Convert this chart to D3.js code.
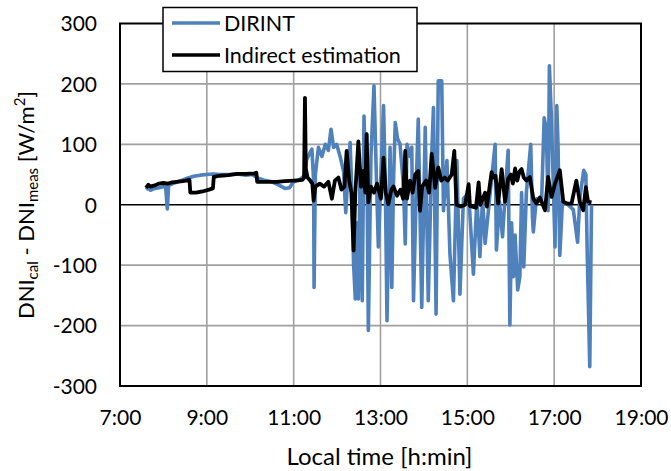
<!DOCTYPE html>
<html>
<head>
<meta charset="utf-8">
<script src="https://cdn.jsdelivr.net/npm/d3@7/dist/d3.min.js"></script>
<style>
  html, body { margin: 0; padding: 0; background: #fff; }
  svg text { font-family: Lato, "Open Sans", sans-serif; fill: #000; }
</style>
</head>
<body>
<svg id="chart" width="671" height="471"></svg>
<script>
// Time of day in decimal hours, difference DNI_cal - DNI_meas in W/m2
const dirintTime = [7.60,7.65,7.70,7.80,7.90,8.00,8.05,8.09,8.12,8.25,8.40,8.55,8.70,8.85,9.00,9.15,9.30,9.50,9.70,9.90,10.05,10.15,10.30,10.50,10.65,10.80,10.90,11.00,11.10,
  11.15,11.24,11.30,11.42,11.46,11.47,11.50,11.57,11.65,11.73,11.80,11.86,11.92,11.99,12.07,12.15,12.20,12.25,12.30,12.34,12.38,12.42,12.45,12.49,12.53,12.58,12.62,12.66,12.68,12.72,12.78,12.85,12.90,12.95,13.01,13.07,13.11,13.15,13.22,13.26,13.30,13.34,13.39,13.45,13.53,13.57,13.61,13.68,13.72,13.76,
  13.84,13.87,13.95,14.03,14.10,14.18,14.22,14.28,14.33,14.41,14.45,14.53,14.60,14.68,14.76,14.83,14.91,15.03,15.14,15.22,
  15.29,15.35,15.41,15.52,15.64,15.67,15.74,15.81,15.87,15.94,15.98,16.02,16.06,16.10,16.13,16.16,16.21,16.25,16.30,16.36,16.46,16.50,16.52,16.59,16.71,16.77,16.82,16.86,16.89,16.93,16.98,17.02,17.06,17.09,17.13,17.19,17.32,17.44,17.54,17.59,17.68,17.73,17.76,17.82,17.86];
const dirintDiff = [25,28,24,27,28,30,30,-7,32,36,40,44,47,49,50,51,50,50,51,49,50,45,41,38,33,27,28,38,40,
  42,48,75,92,40,-137,50,95,80,100,90,125,95,100,80,55,-13,50,103,20,-98,-156,-30,-156,60,-159,147,40,117,-208,80,197,60,-70,50,164,40,-192,95,-137,40,136,110,100,30,-65,100,80,95,-159,
  73,142,-170,128,-159,84,161,-181,205,205,-10,73,-82,-159,73,-148,10,20,-115,10,
  -86,10,-64,15,100,-75,5,-53,15,90,-199,-30,-119,-50,-97,-141,-119,20,-103,20,100,-20,-45,10,5,144,125,-10,230,155,35,-70,164,95,-84,5,0,-8,-62,10,57,50,-75,-268,0];

const indirectTime = [7.60,7.65,7.70,7.80,7.90,8.00,8.10,8.20,8.30,8.45,8.60,8.62,8.75,8.90,9.05,9.14,9.16,9.30,9.50,9.70,9.90,10.10,10.14,10.16,10.40,10.60,10.80,11.00,11.20,11.24,11.26,11.28,
  11.32,11.38,11.43,11.46,11.50,11.60,11.70,11.80,11.88,11.95,12.03,12.10,12.17,12.22,12.28,12.33,12.38,12.42,12.49,12.55,12.60,12.65,12.68,12.72,12.78,12.85,12.92,13.01,13.07,13.12,13.18,13.25,13.30,13.38,13.46,13.52,13.57,13.61,13.68,13.74,13.80,13.87,13.91,13.96,
  14.05,14.12,14.18,14.26,14.33,14.40,14.48,14.55,14.64,14.70,14.75,14.85,14.95,15.03,15.06,15.20,15.26,15.30,15.41,15.45,15.56,15.60,15.65,15.71,15.79,15.87,15.94,16.00,16.05,16.10,16.15,16.20,16.25,16.30,16.36,16.44,16.52,16.59,16.67,16.79,16.86,16.94,17.02,17.13,17.21,17.30,17.40,17.51,17.59,17.67,17.73,17.78,17.86];
const indirectDiff = [28,33,30,32,35,36,35,37,38,39,41,20,20,22,25,27,46,48,49,51,51,52,53,38,38,38,39,40,41,45,177,60,
  45,40,35,7,30,35,30,38,10,40,45,25,30,89,40,20,-76,20,105,30,56,20,117,4,30,20,35,10,78,20,1,25,30,15,25,10,89,10,40,20,50,56,-10,30,
  40,20,84,28,62,40,45,40,50,89,0,-3,0,34,-2,-5,37,0,20,-3,54,45,48,2,59,5,43,50,35,60,40,55,59,45,40,46,10,2,12,-9,46,13,35,57,5,2,2,40,5,-9,29,5,4];

const seriesNames = ["DIRINT", "Indirect estimation"];
const seriesColors = ["#4f81bd", "#000000"];
const xTicks = [7, 9, 11, 13, 15, 17, 19];
const yTicks = [-300, -200, -100, 0, 100, 200, 300];

const svg = d3.select("#chart");
const L = 120, R = 641, T = 23.5, B = 386;

const x = d3.scaleLinear().domain([7, 19]).range([L, R]);
const y = d3.scaleLinear().domain([-300, 300]).range([B, T]);

// grid
const grid = svg.append("g");
grid.selectAll("line.v").data(xTicks.slice(1, -1)).join("line")
  .attr("x1", d => x(d)).attr("x2", d => x(d)).attr("y1", T).attr("y2", B)
  .attr("stroke", "#a0a0a0").attr("stroke-width", 1.6);
grid.selectAll("line.h").data(yTicks.filter(d => d !== 0 && Math.abs(d) !== 300)).join("line")
  .attr("x1", L).attr("x2", R).attr("y1", d => y(d)).attr("y2", d => y(d))
  .attr("stroke", "#a0a0a0").attr("stroke-width", 1.6);
// zero line
svg.append("line").attr("x1", L).attr("x2", R).attr("y1", y(0)).attr("y2", y(0))
  .attr("stroke", "#000").attr("stroke-width", 1.5);

// axes labels
const xAxis = d3.axisBottom(x).tickValues(xTicks).tickSize(0).tickPadding(0)
  .tickFormat(d => d + ":00");
const gx = svg.append("g").attr("transform", `translate(0,${B})`).call(xAxis);
gx.select(".domain").remove();
gx.selectAll("text").attr("dy", null).attr("y", 39).style("font-size", "21px")
  .attr("font-family", null);

const yAxis = d3.axisLeft(y).tickValues(yTicks).tickSize(0).tickPadding(0)
  .tickFormat(d => String(d));
const gy = svg.append("g").attr("transform", `translate(${L},0)`).call(yAxis);
gy.select(".domain").remove();
gy.selectAll("text").attr("x", -23).attr("dy", "0.35em").style("font-size", "21px")
  .attr("font-family", null);

// data lines
const line = d3.line().x(d => x(d[0])).y(d => y(d[1]));
const dirint = dirintTime.map((t, i) => [t, dirintDiff[i]]);
const indirect = indirectTime.map((t, i) => [t, indirectDiff[i]]);
svg.append("path").datum(dirint).attr("d", line).attr("fill", "none")
  .attr("stroke", seriesColors[0]).attr("stroke-width", 3.6).attr("stroke-linejoin", "round");
svg.append("path").datum(indirect).attr("d", line).attr("fill", "none")
  .attr("stroke", seriesColors[1]).attr("stroke-width", 3.8).attr("stroke-linejoin", "round");

// frame
svg.append("rect").attr("x", L).attr("y", T).attr("width", R - L).attr("height", B - T)
  .attr("fill", "none").attr("stroke", "#000").attr("stroke-width", 2);

// legend
const lg = svg.append("g");
lg.append("rect").attr("x", 163).attr("y", 7.5).attr("width", 254).attr("height", 64)
  .attr("fill", "#fff").attr("stroke", "#000").attr("stroke-width", 1.5);
seriesNames.forEach((name, i) => {
  const yy = 23 + i * 32;
  lg.append("line").attr("x1", 172).attr("x2", 220).attr("y1", yy).attr("y2", yy)
    .attr("stroke", seriesColors[i]).attr("stroke-width", 3.5);
  lg.append("text").attr("x", 224).attr("y", yy).attr("dy", "0.35em")
    .style("font-size", "21.5px").text(name);
});

// axis titles
svg.append("text").attr("x", (L + R) / 2 - 1).attr("y", 465).attr("text-anchor", "middle")
  .style("font-size", "24px").text("Local time [h:min]");

const yt = svg.append("text").attr("transform", `translate(34,205) rotate(-90)`)
  .attr("text-anchor", "middle").style("font-size", "22px");
yt.append("tspan").text("DNI");
yt.append("tspan").attr("baseline-shift", "-25%").style("font-size", "15px").text("cal");
yt.append("tspan").text(" - DNI");
yt.append("tspan").attr("baseline-shift", "-25%").style("font-size", "15px").text("meas");
yt.append("tspan").text("  [W/m");
yt.append("tspan").attr("baseline-shift", "super").style("font-size", "15px").text("2");
yt.append("tspan").text("]");
</script>
</body>
</html>
